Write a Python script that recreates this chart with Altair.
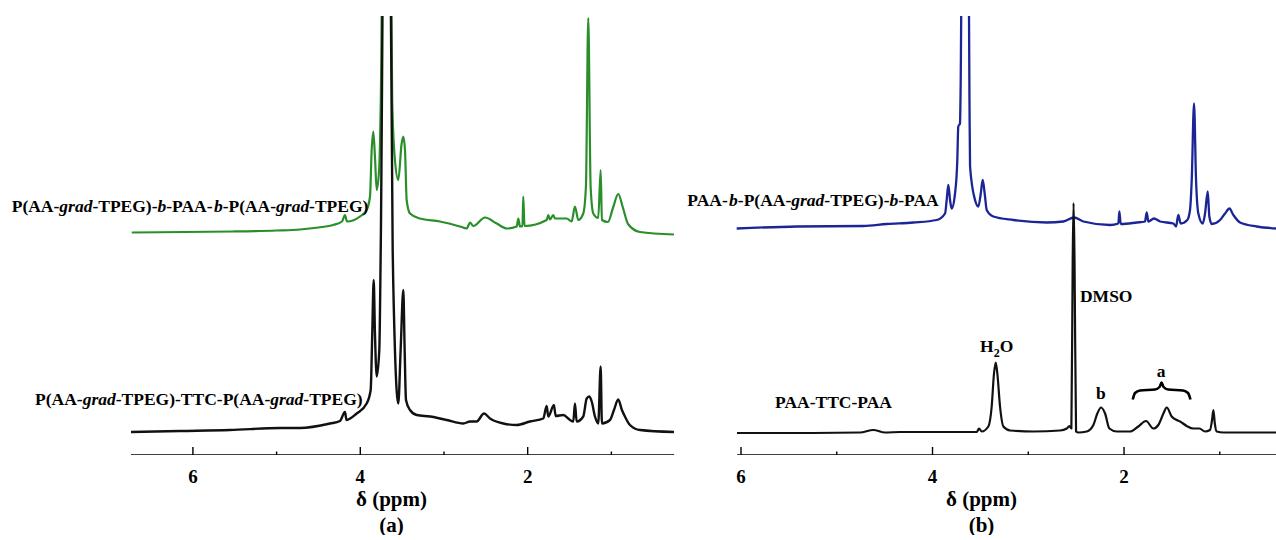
import altair as alt
import pandas as pd

# ---------------- data (ppm, relative intensity) ----------------
# panel (a)
a_black_ppm = [6.740, 6.154, 5.557, 4.959, 4.720, 4.362, 4.243, 4.183, 4.165, 4.043, 3.924, 3.876,
               3.857, 3.840, 3.825, 3.804, 3.773, 3.756, 3.687, 3.613, 3.586, 3.546, 3.518, 3.486,
               3.470, 3.454, 3.406, 3.326, 3.167, 2.968, 2.769, 2.689, 2.610, 2.522, 2.450, 2.292,
               2.132, 1.973, 1.814, 1.773, 1.754, 1.686, 1.666, 1.575, 1.495, 1.455, 1.435, 1.415,
               1.336, 1.295, 1.264, 1.235, 1.196, 1.157, 1.128, 1.113, 1.017, 0.969, 0.918, 0.874,
               0.838, 0.778, 0.658, 0.252]
a_black_int = [4.6, 4.8, 5.0, 5.4, 5.4, 6.3, 6.8, 8.6, 7.0, 8.3, 10.3, 13.0,
               24.4, 35.0, 24.4, 15.7, 21.0, 41.0, 191.0, 41.0, 21.0, 10.3, 21.0, 33.0,
               21.0, 11.0, 9.0, 8.0, 7.7, 7.0, 6.3, 6.7, 6.7, 8.3, 7.3, 6.3,
               6.0, 6.7, 7.3, 9.8, 7.7, 10.0, 7.8, 8.0, 7.0, 6.7, 10.3, 6.7,
               7.7, 11.3, 11.7, 10.7, 7.7, 6.3, 17.7, 6.3, 7.0, 9.0, 11.1, 9.0,
               7.7, 6.0, 5.0, 4.6]

a_green_ppm = [6.731, 6.100, 5.521, 5.000, 4.720, 4.500, 4.323, 4.219, 4.183, 4.159, 4.004, 3.924,
               3.884, 3.864, 3.845, 3.825, 3.804, 3.773, 3.755, 3.687, 3.619, 3.586, 3.546, 3.506,
               3.486, 3.466, 3.446, 3.406, 3.287, 3.048, 2.809, 2.729, 2.689, 2.650, 2.510, 2.370,
               2.251, 2.131, 2.112, 2.092, 2.062, 2.053, 2.038, 1.773, 1.754, 1.734, 1.694, 1.674,
               1.534, 1.475, 1.435, 1.395, 1.336, 1.304, 1.276, 1.248, 1.216, 1.157, 1.128, 1.113,
               1.041, 0.981, 0.918, 0.861, 0.801, 0.658, 0.252]
a_green_int = [44.5, 44.6, 44.7, 44.9, 45.1, 45.5, 46.0, 46.7, 48.0, 46.7, 47.7, 49.0,
               51.7, 61.0, 64.7, 59.7, 53.0, 57.7, 71.0, 211.0, 71.0, 59.0, 55.0, 62.3,
               63.7, 61.0, 51.0, 48.3, 47.3, 46.7, 45.7, 45.3, 46.5, 45.8, 47.5, 46.3,
               45.3, 45.7, 47.3, 45.7, 45.8, 51.7, 45.8, 47.0, 48.0, 47.1, 48.0, 47.3,
               47.3, 46.7, 49.7, 47.0, 48.3, 53.7, 87.4, 53.7, 48.3, 47.4, 57.0, 47.0,
               46.6, 49.4, 52.2, 49.4, 46.2, 44.6, 44.1]

# panel (b)
b_blue_ppm = [6.045, 5.418, 4.723, 4.478, 4.201, 3.956, 3.869, 3.852, 3.835, 3.817, 3.800, 3.765,
              3.741, 3.731, 3.713, 3.708, 3.661, 3.614, 3.608, 3.556, 3.521, 3.496, 3.476, 3.455,
              3.434, 3.365, 3.156, 2.807, 2.634, 2.522, 2.425, 2.146, 2.059, 2.049, 2.034, 1.867,
              1.781, 1.763, 1.746, 1.687, 1.624, 1.485, 1.457, 1.433, 1.408, 1.339, 1.311, 1.293,
              1.269, 1.248, 1.224, 1.178, 1.154, 1.126, 1.109, 1.084, 0.997, 0.945, 0.900, 0.858,
              0.789, 0.614, 0.413]
b_blue_int = [45.3, 45.7, 45.8, 46.2, 46.5, 47.0, 48.3, 51.0, 54.0, 51.0, 49.3, 52.3,
              59.0, 65.7, 66.3, 71.0, 211.0, 71.0, 57.7, 51.0, 49.7, 52.3, 55.0, 52.3,
              49.0, 47.7, 47.0, 46.5, 46.7, 47.5, 46.7, 46.0, 46.3, 48.7, 46.2, 46.5,
              46.7, 48.5, 46.7, 47.3, 46.7, 46.3, 45.7, 48.0, 46.3, 47.0, 49.0, 55.0,
              70.3, 55.0, 48.3, 46.3, 48.3, 52.7, 47.7, 46.2, 47.0, 48.3, 49.3, 48.0,
              46.5, 45.7, 45.3]

b_black_ppm = [6.042, 5.384, 4.757, 4.618, 4.496, 4.339, 3.538, 3.514, 3.486, 3.417, 3.382, 3.358,
               3.340, 3.323, 3.295, 3.260, 3.190, 2.947, 2.668, 2.598, 2.571, 2.550, 2.536, 2.527,
               2.517, 2.501, 2.477, 2.389, 2.320, 2.279, 2.240, 2.198, 2.153, 2.076, 1.937, 1.851,
               1.770, 1.694, 1.642, 1.589, 1.554, 1.502, 1.450, 1.415, 1.345, 1.276, 1.213, 1.154,
               1.102, 1.081, 1.067, 1.052, 1.032, 0.963, 0.413]
b_black_int = [4.4, 4.4, 4.5, 5.0, 4.5, 4.6, 4.6, 5.3, 4.7, 5.7, 9.7, 16.3,
               18.5, 16.3, 9.7, 5.7, 4.9, 4.7, 4.9, 5.3, 5.8, 5.3, 39.0, 50.4,
               39.0, 4.7, 4.5, 4.7, 6.0, 8.3, 9.5, 8.3, 5.3, 4.7, 4.7, 5.7,
               6.8, 5.3, 6.0, 8.3, 9.5, 7.7, 7.0, 6.7, 5.8, 5.3, 5.3, 4.7,
               5.0, 7.0, 9.0, 6.3, 4.7, 4.5, 4.5]

brace_ppm = [1.909, 1.885, 1.833, 1.676, 1.629, 1.608, 1.587, 1.540, 1.384, 1.332, 1.306]
brace_int = [11.1, 12.4, 12.9, 13.1, 13.6, 14.5, 13.6, 13.1, 12.9, 12.4, 11.1]

major_ticks = [6, 4, 2]
minor_ticks = [5, 3, 1]
tick_labels = ["6", "4", "2"]
a_axis_range = [6.74, 0.25]
b_axis_range = [6.04, 0.413]
a_x_domain = [8.305, 0.180]
b_x_domain = [6.637, 0.413]
y_domain = [0, 87.8]

# labels: (anchor ppm, anchor intensity, pieces[(text, italic, size, y shift)])
FS = 17.5
a_labels = [
    (8.165, 48.6, [("P(AA-", False, FS, 0), ("grad", True, FS, 0), ("-TPEG)-", False, FS, 0),
                   ("b", True, FS, 0), ("-PAA-", False, FS, 0), ("b", True, FS, 0),
                   ("-P(AA-", False, FS, 0), ("grad", True, FS, 0), ("-TPEG)", False, FS, 0)]),
    (7.886, 10.0, [("P(AA-", False, FS, 0), ("grad", True, FS, 0),
                   ("-TPEG)-TTC-P(AA-", False, FS, 0), ("grad", True, FS, 0), ("-TPEG)", False, FS, 0)]),
]
b_labels = [
    (6.561, 49.8, [("PAA-", False, FS, 0), ("b", True, FS, 0), ("-P(AA-", False, FS, 0),
                   ("grad", True, FS, 0), ("-TPEG)-", False, FS, 0), ("b", True, FS, 0),
                   ("-PAA", False, FS, 0)]),
    (5.645, 9.4, [("PAA-TTC-PAA", False, FS, 0)]),
    (3.504, 20.6, [("H", False, FS, 0), ("2", False, 12, -1.0), ("O", False, FS, 0)]),
    (2.460, 30.6, [("DMSO", False, FS, 0)]),
    (2.292, 11.2, [("b", False, FS, 0)]),
    (1.659, 15.6, [("a", False, FS, 0)]),
]

# Times bold / bold-italic advance widths (1/1000 em) used to place the text pieces
W_B = {"P": 611, "(": 333, ")": 333, "A": 722, "-": 333, "T": 667, "E": 667, "G": 778,
       "C": 722, "M": 944, "S": 556, "D": 722, "O": 778, "H": 778, "2": 500, "a": 500,
       "b": 556, "d": 556, "g": 500, "r": 444}
W_BI = {"a": 500, "b": 500, "d": 500, "g": 500, "r": 389}

PLOT_H = 439


def text_rows(labels, px_per_ppm):
    rows = []
    for x0, y0, pieces in labels:
        cum = 0.0
        for txt, it, size, dy in pieces:
            rows.append({"text": txt, "ppm": x0 - cum / px_per_ppm, "inten": y0 + dy,
                         "it": "italic" if it else "normal", "size": size})
            table = W_BI if it else W_B
            cum += sum(table.get(c, 500) for c in txt) * size / 1000.0
    return pd.DataFrame(rows)


def trace(ppm, inten):
    return pd.DataFrame({"ppm": ppm, "inten": inten, "idx": list(range(len(ppm)))})


def panel(traces, texts, x_domain, axis_range, width, title, title_x, brace=None):
    xs = alt.Scale(domain=x_domain, nice=False, zero=False)
    ys = alt.Scale(domain=y_domain, nice=False, zero=False)
    axis = alt.Axis(values=major_ticks, domain=False, ticks=False, tickSize=0, grid=False,
                    labels=False,
                    title=title, titleFont="Liberation Serif", titleFontWeight="bold",
                    titleFontSize=21, titleColor="black", titleX=title_x, titleY=50,
                    titleAlign="center", titleBaseline="alphabetic", titleLineHeight=26)

    def X():
        return alt.X("ppm:Q", scale=xs, axis=axis)

    def Y():
        return alt.Y("inten:Q", scale=ys, axis=None)

    layers = []
    for df, color, sw in traces:
        layers.append(alt.Chart(df).mark_line(color=color, strokeWidth=sw, clip=True,
                                              interpolate="monotone",
                                              strokeJoin="round").encode(
            x=X(), y=Y(), order="idx:Q"))
    if brace is not None:
        layers.append(alt.Chart(brace).mark_line(color="black", strokeWidth=2.6,
                                                 interpolate="monotone").encode(
            x=X(), y=Y(), order="idx:Q"))
    for style in ["normal", "italic"]:
        layers.append(alt.Chart(texts).transform_filter(alt.datum.it == style).mark_text(
            align="left", baseline="alphabetic", font="Liberation Serif", fontWeight="bold",
            fontStyle=style, color="black").encode(
            x=X(), y=Y(), text="text:N",
            size=alt.Size("size:Q", scale=None, legend=None)))

    axis_df = pd.DataFrame({"ppm": [axis_range[0]], "ppm2": [axis_range[1]], "inten": [0.0]})
    axis_line = alt.Chart(axis_df).mark_rule(color="black", strokeWidth=1.6, clip=True).encode(
        x=X(), x2="ppm2:Q", y=Y())

    tick_df = pd.DataFrame({"tick": major_ticks + minor_ticks,
                            "base": [0.0] * 6,
                            "top": [1.6] * 3 + [0.7] * 3})
    ticks = alt.Chart(tick_df).mark_rule(color="black", strokeWidth=1.4).encode(
        x=alt.X("tick:Q", scale=xs, axis=axis),
        y=alt.Y("base:Q", scale=ys, axis=None), y2="top:Q")

    lab_df = pd.DataFrame({"tick": major_ticks, "lab": tick_labels})
    tick_text = alt.Chart(lab_df).mark_text(
        align="center", baseline="alphabetic", font="Liberation Serif", fontWeight="bold",
        fontSize=19, color="black").encode(
        x=alt.X("tick:Q", scale=xs, axis=axis), y=alt.value(PLOT_H + 28), text="lab:N")

    layers += [axis_line, ticks, tick_text]
    return alt.layer(*layers).properties(width=width, height=PLOT_H)


left = panel(
    [(trace(a_green_ppm, a_green_int), "#2a8f2a", 2.2),
     (trace(a_black_ppm, a_black_int), "#111111", 2.4)],
    text_rows(a_labels, 83.7), a_x_domain, a_axis_range, 680, ["δ (ppm)", "(a)"], 391)

right = panel(
    [(trace(b_blue_ppm, b_blue_int), "#1b2596", 2.3),
     (trace(b_black_ppm, b_black_int), "#111111", 2.2)],
    text_rows(b_labels, 95.75), b_x_domain, b_axis_range, 596, ["δ (ppm)", "(b)"], 301,
    brace=trace(brace_ppm, brace_int))

chart = alt.hconcat(left, right, spacing=0, bounds="flush").properties(
    padding={"left": 0, "right": 0, "top": 16, "bottom": 0},
    background="white",
).configure_view(stroke=None)

chart.save("out.html", embed_options={"renderer": "svg", "actions": False})
